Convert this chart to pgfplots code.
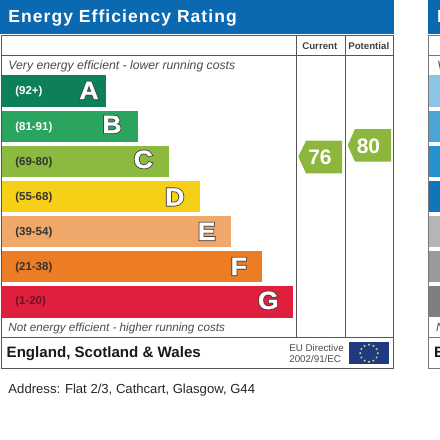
\documentclass[border=0pt]{standalone}
\usepackage{pgfplots}
\pgfplotsset{compat=1.18}
\usepackage{fontspec}
\setmainfont{Liberation Sans}
\newfontfamily\letterb[FakeStretch=1.06,FakeBold=8]{Liberation Sans Bold}
\newfontfamily\letterw[FakeStretch=1.06,FakeBold=1]{Liberation Sans Bold}
\definecolor{hdr}{HTML}{0A69B1}
\definecolor{frm}{HTML}{555555}
\definecolor{ra}{HTML}{0E8059}
\definecolor{rb}{HTML}{2AA55F}
\definecolor{rc}{HTML}{8CB93F}
\definecolor{rd}{HTML}{F6CF17}
\definecolor{re}{HTML}{F0A76A}
\definecolor{rf}{HTML}{EC7D25}
\definecolor{rg}{HTML}{E01F3D}
\definecolor{tag}{HTML}{8CB63C}
\definecolor{eub}{HTML}{1E3A80}
\definecolor{euy}{HTML}{E8D25A}
\definecolor{HTMLa}{HTML}{8BC4E6}
\definecolor{HTMLb}{HTML}{4AA5D8}
\definecolor{HTMLc}{HTML}{2592CF}
\definecolor{HTMLd}{HTML}{1076B8}
\definecolor{HTMLe}{HTML}{B5B5B5}
\definecolor{HTMLf}{HTML}{9A9A9A}
\definecolor{HTMLg}{HTML}{7F7F7F}
\tikzset{T/.style={anchor=base west,inner sep=0pt,outer sep=0pt}}
\newcommand\outm[1]{\fontsize{25}{27}\selectfont
 \makebox[0pt][c]{\letterb\special{pdf:bcolor [0.27 0.27 0.27] [0.27 0.27 0.27]}#1\special{pdf:ecolor}}%
 \makebox[0pt][c]{\letterw\special{pdf:bcolor [1 1 1] [1 1 1]}#1\special{pdf:ecolor}}}
\newcommand\sz[1]{\fontsize{#1}{#1}\selectfont}
\begin{document}
\begin{tikzpicture}
\clip (0,0) rectangle (440pt,440pt);
\fill[white] (0,0) rectangle (440pt,440pt);
% the rating bars: value 0 sits at pixel x = 2
\begin{axis}[at={(0,0)},anchor=south west,scale only axis,width=440pt,height=440pt,hide axis,
  xmin=-2,xmax=438,ymin=0,ymax=440,y dir=reverse,xbar,bar shift=0pt,bar width=31.4]
\addplot[fill=ra,draw=none] coordinates {(104.3,91)};
\addplot[fill=rb,draw=none] coordinates {(135.7,126.4)};
\addplot[fill=rc,draw=none] coordinates {(166.7,161.4)};
\addplot[fill=rd,draw=none] coordinates {(198,196.4)};
\addplot[fill=re,draw=none] coordinates {(229,231.7)};
\addplot[fill=rf,draw=none] coordinates {(260,266.7)};
\addplot[fill=rg,draw=none] coordinates {(290.7,301.8)};
\end{axis}
\begin{axis}[at={(0,0)},anchor=south west,scale only axis,width=440pt,height=440pt,hide axis,
  xmin=0,xmax=440,ymin=0,ymax=440,y dir=reverse,clip=true]
% headers
\addplot[fill=hdr,draw=none] coordinates {(0,0)(393.5,0)(393.5,33.5)(0,33.5)} -- cycle;
\addplot[fill=hdr,draw=none] coordinates {(428,0)(440,0)(440,33.5)(428,33.5)} -- cycle;
% right-hand panel bands
\addplot[fill=HTMLa,draw=none] coordinates {(429,75.3)(440,75.3)(440,106.7)(429,106.7)} -- cycle;
\addplot[fill=HTMLb,draw=none] coordinates {(429,110.7)(440,110.7)(440,142)(429,142)} -- cycle;
\addplot[fill=HTMLc,draw=none] coordinates {(429,145.7)(440,145.7)(440,177)(429,177)} -- cycle;
\addplot[fill=HTMLd,draw=none] coordinates {(429,180.7)(440,180.7)(440,212)(429,212)} -- cycle;
\addplot[fill=HTMLe,draw=none] coordinates {(429,216)(440,216)(440,247.3)(429,247.3)} -- cycle;
\addplot[fill=HTMLf,draw=none] coordinates {(429,251)(440,251)(440,282.3)(429,282.3)} -- cycle;
\addplot[fill=HTMLg,draw=none] coordinates {(429,286.3)(440,286.3)(440,317.3)(429,317.3)} -- cycle;
% frames
\addplot[draw=frm,line width=.9pt] coordinates {(1.3,35)(393,35)(393,368.3)(1.3,368.3)} -- cycle;
\addplot[draw=frm,line width=.9pt] coordinates {(1.3,55)(393,55)};
\addplot[draw=frm,line width=.9pt] coordinates {(1.3,337.5)(393,337.5)};
\addplot[draw=frm,line width=.9pt] coordinates {(296.7,35)(296.7,337.5)};
\addplot[draw=frm,line width=.9pt] coordinates {(345,35)(345,337.5)};
\addplot[draw=frm!80,line width=.9pt] coordinates {(428.3,35)(440,35)};
\addplot[draw=frm!80,line width=.9pt] coordinates {(428.3,55)(440,55)};
\addplot[draw=frm!80,line width=.9pt] coordinates {(428.3,337.5)(440,337.5)};
\addplot[draw=frm!80,line width=.9pt] coordinates {(440,368.3)(428.3,368.3)(428.3,35)};
% tags
\addplot[fill=tag,draw=none] coordinates {(298.3,156.7)(306,140.7)(342,140.7)(342,173.3)(306,173.3)} -- cycle;
\addplot[fill=tag,draw=none] coordinates {(347.7,145.3)(355,129)(391,129)(391,161.7)(355,161.7)} -- cycle;
% flag
\addplot[fill=eub,draw=none] coordinates {(348.7,342)(389.3,342)(389.3,364.3)(348.7,364.3)} -- cycle;
\addplot[only marks,mark=star,mark size=1pt,mark options={draw=euy,line width=.6pt}] coordinates
 {(369,344.6)(373.4,345.8)(376.6,349)(377.8,353.2)(376.6,357.4)(373.4,360.6)(369,361.8)(364.6,360.6)(361.4,357.4)(360.2,353.2)(361.4,349)(364.6,345.8)};
% title
\node[T,white] at (axis cs:8.5,22.3) {\sz{17.5}\bfseries\addfontfeatures{LetterSpace=6}Energy Efficiency Rating};
\node[T,white] at (axis cs:437,22.3) {\sz{17.5}\bfseries E};
\node[T,text=black!75] at (axis cs:302.3,49) {\sz{9.7}\bfseries Current};
\node[T,text=black!75] at (axis cs:348.3,49) {\sz{9.7}\bfseries Potential};
\node[T,text=black!70] at (axis cs:8.5,69.3) {\sz{12.2}\itshape Very energy efficient - lower running costs};
\node[T,text=black!70] at (axis cs:8.5,331.7) {\sz{11.7}\itshape Not energy efficient - higher running costs};
\node[T,text=black!70] at (axis cs:437,69.3) {\sz{12}\itshape V};
\node[T,text=black!70] at (axis cs:436,331.7) {\sz{12}\itshape N};
% range labels
\node[T,white] at (axis cs:15.3,94.5) {\sz{11.5}\bfseries (92+)};
\node[T,white] at (axis cs:15.3,130) {\sz{11.5}\bfseries (81-91)};
\node[T,text=black!80] at (axis cs:15.3,165.2) {\sz{11.5}\bfseries (69-80)};
\node[T,text=black!80] at (axis cs:15.3,200.2) {\sz{11.5}\bfseries (55-68)};
\node[T,text=black!80] at (axis cs:15.3,235.2) {\sz{11.5}\bfseries (39-54)};
\node[T,text=black!80] at (axis cs:15.3,270.2) {\sz{11.5}\bfseries (21-38)};
\node[T,text=rg!50!black] at (axis cs:15.3,304.9) {\sz{11.5}\bfseries (1-20)};
% letters
\node[anchor=base] at (axis cs:89,99) {\outm{A}};
\node[anchor=base] at (axis cs:112,133) {\outm{B}};
\node[anchor=base] at (axis cs:143.3,168) {\outm{C}};
\node[anchor=base] at (axis cs:174.8,205.5) {\outm{D}};
\node[anchor=base] at (axis cs:206.7,240) {\outm{E}};
\node[anchor=base] at (axis cs:238.8,275) {\outm{F}};
\node[anchor=base] at (axis cs:268.3,309) {\outm{G}};
% tag values
\node[anchor=base,white] at (axis cs:320,164.5) {\sz{21}\bfseries 76};
\node[anchor=base,white] at (axis cs:368.5,153) {\sz{21}\bfseries 80};
% footer
\node[T,text=black!90] at (axis cs:6.7,357.3) {\sz{15.1}\bfseries England, Scotland \& Wales};
\node[T,text=black!90] at (axis cs:434,357.3) {\sz{15.1}\bfseries E};
\node[T,text=black!70] at (axis cs:289.3,351) {\sz{9.8}EU Directive};
\node[T,text=black!70] at (axis cs:289.3,362.3) {\sz{9.8}2002/91/EC};
\node[T,text=black!85] at (axis cs:8.5,393.3) {\sz{13.1}Address: Flat 2/3, Cathcart, Glasgow, G44};
\end{axis}
\end{tikzpicture}
\end{document}
